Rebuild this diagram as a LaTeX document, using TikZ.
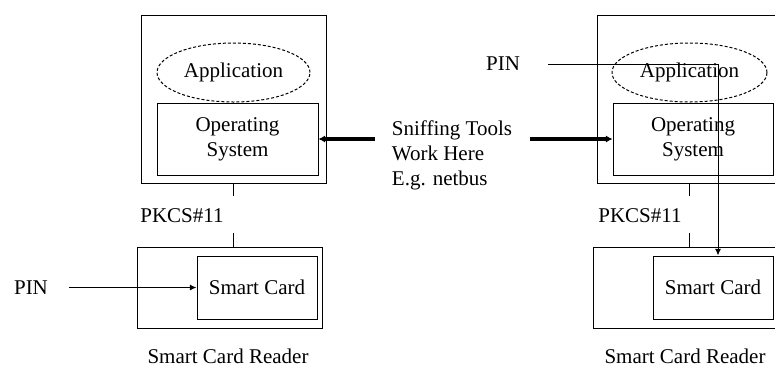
\documentclass[tikz,border=0pt]{standalone}
\usepackage{fontspec}
\setmainfont{Liberation Serif}
\usetikzlibrary{arrows.meta,shapes.geometric}

\tikzset{
  box/.style={draw, line width=0.75, inner sep=0pt},
  appshape/.style={draw, ellipse, dash pattern={on 2.25pt off 1.5pt}, line width=0.75, inner sep=0pt},
  label text/.style={inner sep=0.75pt},
  link/.style={line width=0.75},
  pinarrow/.style={line width=0.75, -{Latex[length=5pt,width=4.5pt]}},
  sniffarrow/.style={line width=2.6, -{Latex[length=5pt,width=5.5pt]}},
}

\begin{document}
\begin{tikzpicture}[x=0.75pt,y=0.75pt,yscale=-1,xscale=1,font=\fontsize{15.75}{18.75}\selectfont]
\useasboundingbox (0,0) rectangle (775,369);
\clip (0,0) rectangle (775,369);

%Shape: Rectangle [host, left]
\draw (233.5,99) node [box, minimum width=138.75pt, minimum height=126pt] (hostL) {};
%Shape: Ellipse [application, left]
\draw (233.5,72.5) node [appshape, minimum width=114.75pt, minimum height=44.25pt] (appL) {Application};
%Shape: Rectangle [os, left]
\draw (237.5,139) node [box, minimum width=120.75pt, minimum height=54pt, align=center] (osL) {Operating\\System};
%Shape: Rectangle [reader, left]
\draw (229.5,287.5) node [box, minimum width=138.75pt, minimum height=60.75pt] (readerL) {};
%Shape: Rectangle [card, left]
\draw (257,287.5) node [box, minimum width=90pt, minimum height=47.25pt] (cardL) {Smart Card};

%Shape: Rectangle [host, right]
\draw (689.5,99) node [box, minimum width=138.75pt, minimum height=126pt] (hostR) {};
%Shape: Ellipse [application, right]
\draw (689.5,72.5) node [appshape, minimum width=116.25pt, minimum height=44.25pt] (appR) {Application};
%Shape: Rectangle [os, right]
\draw (693,139) node [box, minimum width=120pt, minimum height=54pt, align=center] (osR) {Operating\\System};
%Shape: Rectangle [reader, right]
\draw (685.5,287.5) node [box, minimum width=138.75pt, minimum height=60.75pt] (readerR) {};
%Shape: Rectangle [card, right]
\draw (713,287.5) node [box, minimum width=90pt, minimum height=47.25pt] (cardR) {Smart Card};

% Text Node
\draw (182,216) node [label text] (pkcsL) {PKCS\#11};
% Text Node
\draw (31,287.5) node [label text] (pinL) {PIN};
% Text Node
\draw (228,356) node [label text] (caseL) {Smart Card Reader};
% Text Node
\draw (640,216) node [label text] (pkcsR) {PKCS\#11};
% Text Node
\draw (503,64) node [label text] (pinR) {PIN};
% Text Node
\draw (685,356) node [label text] (caseR) {Smart Card Reader};
% Text Node
\draw (452,155) node [label text, align=left] (sniff) {Sniffing Tools\\Work Here\\E.g. netbus};

%Straight Lines [pkcs link, left]
\draw [link] (hostL.south) -- ++(0,12);
\draw [link] (readerL.north -| hostL.south) -- ++(0,-14);
%Straight Lines [pkcs link, right]
\draw [link] (hostR.south) -- ++(0,12);
\draw [link] (readerR.north -| hostR.south) -- ++(0,-14);

%Straight Lines [pin, left]
\draw [pinarrow] ([xshift=15pt]pinL.east) -- (cardL.west);
%Straight Lines [pin, right]
\draw [pinarrow] ([xshift=20pt]pinR.east) -| ([xshift=3.75pt]cardR.north);

%Straight Lines [sniffing]
\draw [sniffarrow] ([xshift=-12pt]sniff.west |- osL.east) -- (osL.east);
\draw [sniffarrow] ([xshift=12.75pt]sniff.east |- osR.west) -- (osR.west);

\end{tikzpicture}
\end{document}
